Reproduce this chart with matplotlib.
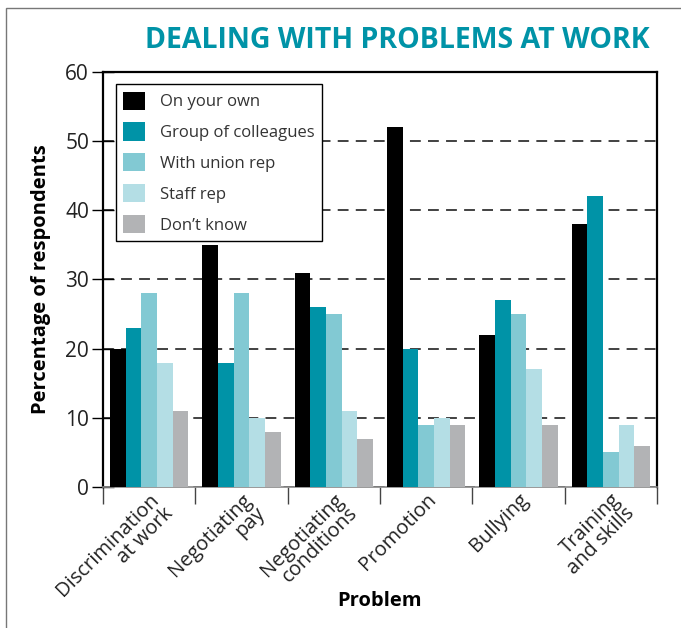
import numpy as np
import matplotlib.pyplot as plt
from matplotlib.patches import Rectangle

plt.rcParams['font.family'] = ['Open Sans', 'DejaVu Sans']

problems = ['Discrimination\nat work', 'Negotiating\npay', 'Negotiating\nconditions',
            'Promotion', 'Bullying', 'Training\nand skills']
series = ['On your own', 'Group of colleagues', 'With union rep', 'Staff rep', "Don\u2019t know"]
colors = ['#000000', '#0093A7', '#82C9D3', '#B4DEE5', '#B2B3B5']

on_own = [20, 35, 31, 52, 22, 38]
colleagues = [23, 18, 26, 20, 27, 42]
union_rep = [28, 28, 25, 9, 25, 5]
staff_rep = [18, 10, 11, 10, 17, 9]
dont_know = [11, 8, 7, 9, 9, 6]
values = [on_own, colleagues, union_rep, staff_rep, dont_know]

fig = plt.figure(figsize=(6.81, 6.28), dpi=100)
ax = fig.add_axes([0.1512, 0.2245, 0.8136, 0.6609])

# outer frame around the whole figure
fig.patches.append(Rectangle((6 / 681, -0.05), 1.2, 1 - 8 / 628 + 0.05,
                             transform=fig.transFigure, fill=False,
                             edgecolor='#777777', lw=1.0))

x = np.arange(len(problems))
width = 0.17
for i, (vals, name, c) in enumerate(zip(values, series, colors)):
    ax.bar(x + (i - 2) * width, vals, width, color=c, label=name, zorder=3)

ax.set_xlim(-0.5, len(problems) - 0.5)
ax.set_ylim(0, 60)
ax.set_yticks(range(0, 61, 10))
ax.tick_params(axis='y', direction='inout', length=16, width=1, labelsize=15,
               labelcolor='#222222', pad=2)

# ticks at the group boundaries, labels at the group centres
ax.set_xticks(np.arange(len(problems) + 1) - 0.5)
ax.set_xticklabels([])
ax.tick_params(axis='x', which='major', direction='out', length=12, width=1, color='#444444')
ax.set_xticks(x, minor=True)
ax.set_xticklabels(problems, minor=True, rotation=45, ha='right',
                   rotation_mode='anchor', fontsize=14.5, color='#222222',
                   linespacing=0.95)
ax.tick_params(axis='x', which='minor', length=0, pad=2)

ax.yaxis.grid(True, linestyle=(0, (6, 4)), color='#333333', lw=1.3, zorder=0)
ax.set_axisbelow(True)

for side in ['left', 'top', 'right']:
    ax.spines[side].set_linewidth(1.6)
    ax.spines[side].set_color('black')
ax.spines['bottom'].set_color('#888888')
ax.spines['bottom'].set_linewidth(1.2)

ax.set_ylabel('Percentage of respondents', fontsize=14.5, fontweight='bold', labelpad=10)
ax.set_xlabel('Problem', fontsize=14.5, fontweight='bold')
ax.xaxis.set_label_coords(0.5, -0.25)

leg = ax.legend(loc='upper left', bbox_to_anchor=(0.0235, 0.971), borderaxespad=0,
                fontsize=12, frameon=True, fancybox=False, edgecolor='black',
                framealpha=1, handlelength=1.3, handleheight=1.3, labelspacing=0.73,
                borderpad=0.45, handletextpad=0.9)
leg.get_frame().set_linewidth(1.0)
for t in leg.get_texts():
    t.set_color('#333333')

fig.text(650 / 681, 1 - 41 / 628, 'DEALING WITH PROBLEMS AT WORK', ha='right', va='center',
         fontsize=20.5, fontweight='bold', color='#0093A7')

fig.savefig('out.png', dpi=100)
